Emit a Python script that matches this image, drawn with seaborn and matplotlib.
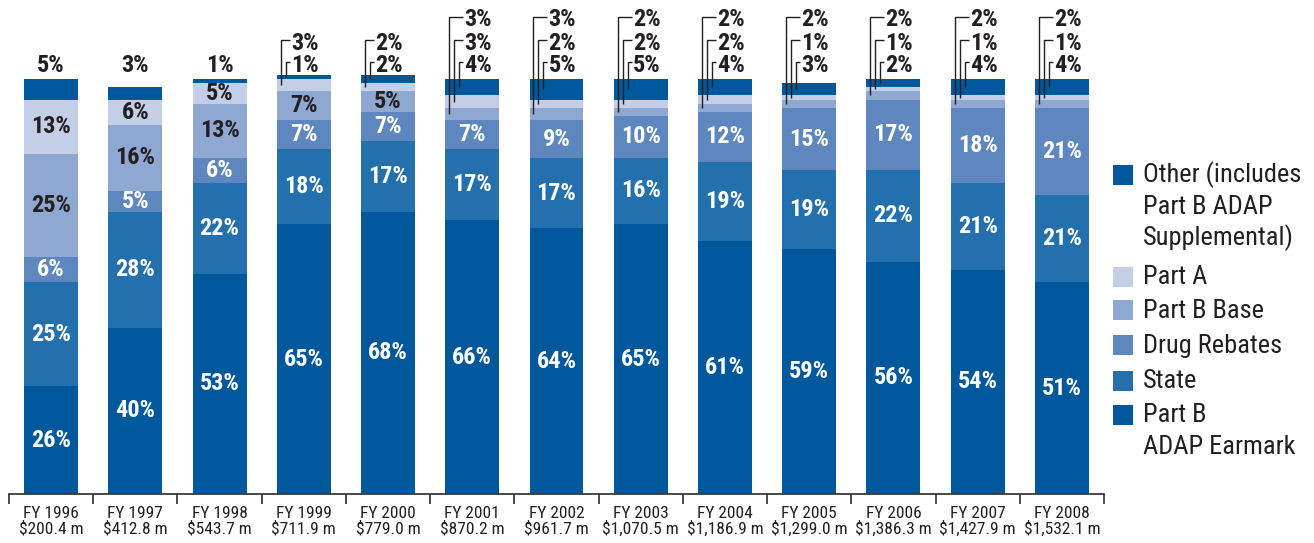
import matplotlib
matplotlib.use("Agg")
import matplotlib.pyplot as plt
from matplotlib.patches import Rectangle
import numpy as np
import seaborn as sns

# ---- data -------------------------------------------------------------
years = ["FY 1996", "FY 1997", "FY 1998", "FY 1999", "FY 2000", "FY 2001", "FY 2002",
         "FY 2003", "FY 2004", "FY 2005", "FY 2006", "FY 2007", "FY 2008"]
totals = ["$200.4 m", "$412.8 m", "$543.7 m", "$711.9 m", "$779.0 m", "$870.2 m",
          "$961.7 m", "$1,070.5 m", "$1,186.9 m", "$1,299.0 m", "$1,386.3 m",
          "$1,427.9 m", "$1,532.1 m"]

# percent of each year's ADAP budget, stacked bottom to top
earmark      = [26, 40, 53, 65, 68, 66, 64, 65, 61, 59, 56, 54, 51]
state        = [25, 28, 22, 18, 17, 17, 17, 16, 19, 19, 22, 21, 21]
drug_rebates = [6, 5, 6, 7, 7, 7, 9, 10, 12, 15, 17, 18, 21]
part_b_base  = [25, 16, 13, 7, 5, 3, 3, 2, 2, 2, 2, 2, 2]
part_a       = [13, 6, 5, 3, 2, 3, 2, 2, 2, 1, 1, 1, 1]
other        = [5, 3, 1, 1, 2, 4, 5, 5, 4, 3, 2, 4, 4]

source_names = ["Part B\nADAP Earmark", "State", "Drug Rebates", "Part B Base", "Part A",
                "Other (includes\nPart B ADAP\nSupplemental)"]
source_colors = ["#00589C", "#2470AD", "#5D87BE", "#8EA8D1", "#C3CEE7", "#00589C"]

# ---- style ------------------------------------------------------------
sns.set_theme(style="white")
plt.rcParams["font.family"] = ["Roboto Condensed", "Archivo Narrow", "Barlow Condensed",
                               "DejaVu Sans"]
DARK = "#231F20"

W, H = 1314, 543
fig = plt.figure(figsize=(W / 100, H / 100), dpi=100)
ax = fig.add_axes([9 / W, 49 / H, 1095 / W, 494 / H])

vals = np.array([earmark, state, drug_rebates, part_b_base, part_a, other], dtype=float)
tops = vals.cumsum(axis=0)
bottoms = tops - vals
cats = [f"{y}\n{t}" for y, t in zip(years, totals)]

# stacked bars: draw cumulative totals from the top layer down
for k in range(len(source_names) - 1, -1, -1):
    sns.barplot(x=cats, y=tops[k], order=cats, color=source_colors[k], saturation=1,
                width=0.64, linewidth=0, errorbar=None, ax=ax)

ax.set_xlim(-0.5, len(cats) - 0.5)
ax.set_ylim(0, 119.0)
ax.set_ylabel("")
ax.set_yticks([])
for s in ("top", "right", "left"):
    ax.spines[s].set_visible(False)
ax.spines["bottom"].set_color("#3a3a3a")
ax.spines["bottom"].set_linewidth(1.3)

ax.set_xticks(range(len(cats)))
ax.set_xticklabels(cats)
ax.set_xticks(np.arange(-0.5, len(cats), 1.0), minor=True)
ax.tick_params(axis="x", which="major", length=0, pad=9, labelsize=12.5, labelcolor=DARK)
ax.tick_params(axis="x", which="minor", length=7.5, width=1.3, color="#3a3a3a",
               direction="out", bottom=True)
for lab in ax.get_xticklabels():
    lab.set_linespacing(0.95)

# ---- value labels -----------------------------------------------------
px = 1 / 84.23          # one pixel in category units
py = 100 / 415          # one pixel in percent units
rows = [114.2, 108.6, 103.3]
label_kw = dict(fontsize=17.5, fontweight="bold")

for i in range(len(cats)):
    outside = [k for k in range(6) if k == 5 or vals[k, i] < 5]
    for k in range(6):
        if k in outside:
            continue
        ax.text(i, bottoms[k, i] + vals[k, i] / 2, f"{int(vals[k, i])}%",
                ha="center", va="center", color="white" if k < 3 else DARK, **label_kw)
    n = len(outside)
    if n == 1:
        k = outside[0]
        ax.text(i, rows[2], f"{int(vals[k, i])}%", ha="center", va="center",
                color=DARK, **label_kw)
        continue
    left = i - 27 * px
    text_x = left + (4 + 5 * (n - 1) + 5) * px
    for j, k in enumerate(outside):
        row = rows[3 - n + j]
        lx = left + (4 + 5 * j) * px
        ly = row + 3 * py
        ax.plot([text_x - 1 * px, lx, lx], [ly, ly, bottoms[k, i] + vals[k, i] / 2],
                color=DARK, linewidth=1.0, solid_capstyle="butt", clip_on=False)
        ax.text(text_x, row, f"{int(vals[k, i])}%", ha="left", va="center",
                color=DARK, **label_kw)

# ---- legend -----------------------------------------------------------
legend_rows = [
    (5, 175, [175, 207, 238]),
    (4, 277, [277]),
    (3, 310, [311]),
    (2, 345, [346]),
    (1, 381, [381]),
    (0, 415, [415, 447]),
]
for k, sq_y, line_ys in legend_rows:
    fig.add_artist(Rectangle((1113 / W, 1 - (sq_y + 10) / H), 20 / W, 20 / H,
                             transform=fig.transFigure, facecolor=source_colors[k],
                             edgecolor="none"))
    for line, ly in zip(source_names[k].split("\n"), line_ys):
        fig.text(1143 / W, 1 - ly / H, line, ha="left", va="center",
                 fontsize=19, color=DARK)

fig.savefig("out.png", dpi=100)
